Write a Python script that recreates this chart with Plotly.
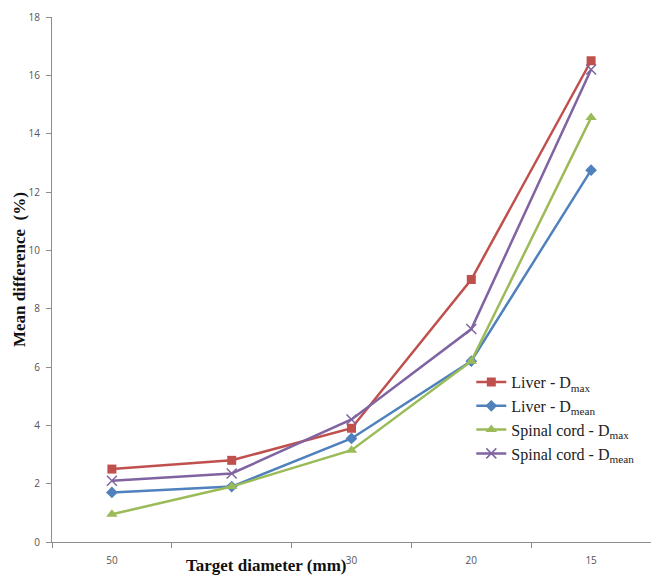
import plotly.graph_objects as go

X_LABELS = ["50", "", "30", "20", "15"]
X_POS = [0, 1, 2, 3, 4]

LIVER_DMAX = [2.5, 2.8, 3.9, 9.0, 16.5]
LIVER_DMEAN = [1.7, 1.9, 3.55, 6.2, 12.75]
SPINAL_DMAX = [0.95, 1.9, 3.15, 6.2, 14.55]
SPINAL_DMEAN = [2.1, 2.35, 4.2, 7.3, 16.2]

Y_TICKS = [0, 2, 4, 6, 8, 10, 12, 14, 16, 18]

series = [
    ("Liver - D<sub>max</sub>", LIVER_DMAX, "#C0504D", dict(symbol="square", size=9)),
    ("Liver - D<sub>mean</sub>", LIVER_DMEAN, "#4F81BD", dict(symbol="diamond", size=9)),
    ("Spinal cord - D<sub>max</sub>", SPINAL_DMAX, "#9BBB59", dict(symbol="triangle-up", size=10)),
    ("Spinal cord - D<sub>mean</sub>", SPINAL_DMEAN, "#8064A2", dict(symbol="x-thin-open", size=10)),
]

fig = go.Figure()
for name, vals, color, mk in series:
    marker = dict(color=color, **mk)
    if mk["symbol"].startswith("x-thin"):
        marker["line"] = dict(color="#9A8CC0", width=1.5)
    fig.add_trace(go.Scatter(
        x=X_POS, y=vals, name=name, mode="lines+markers",
        line=dict(color=color, width=2.5), marker=marker,
    ))

fig.update_layout(
    width=651, height=575,
    margin=dict(l=52, r=0, t=17, b=33),
    paper_bgcolor="white", plot_bgcolor="white",
    showlegend=True,
    legend=dict(
        x=0.70, y=0.337, xanchor="left", yanchor="top",
        font=dict(family="Liberation Serif, Times New Roman, serif", size=16, color="#222222"),
        bgcolor="rgba(0,0,0,0)", tracegroupgap=0, itemwidth=30,
    ),
    xaxis=dict(
        range=[-0.5, 4.5], tickmode="array", tickvals=X_POS, ticktext=X_LABELS,
        ticks="", showgrid=False, zeroline=False,
        showline=True, linecolor="#8C8C8C", linewidth=1,
        tickfont=dict(family="Open Sans, sans-serif", size=10, color="#555555"),
        minor=dict(ticks="outside", tick0=0.5, dtick=1, ticklen=5, tickcolor="#8C8C8C", showgrid=False),
        ticklabelstandoff=9,
    ),
    yaxis=dict(
        range=[0, 18], tickvals=Y_TICKS, ticks="outside", ticklen=5, tickcolor="#8C8C8C",
        showgrid=False, zeroline=False,
        showline=True, linecolor="#8C8C8C", linewidth=1,
        tickfont=dict(family="Open Sans, sans-serif", size=10, color="#555555"),
        ticklabelstandoff=4,
    ),
    annotations=[
        dict(text="<b>Target diameter (mm)</b>", xref="paper", yref="paper",
             x=(266 - 52) / 599, y=(542 - 565) / 525, xanchor="center", yanchor="middle", showarrow=False,
             font=dict(family="Liberation Serif, Times New Roman, serif", size=17, color="#111111")),
        dict(text="<b>Mean difference  (%)</b>", xref="paper", yref="paper",
             x=-0.055, y=(542 - 270) / 525, xanchor="center", yanchor="middle", showarrow=False,
             textangle=-90,
             font=dict(family="Liberation Serif, Times New Roman, serif", size=17, color="#111111")),
    ],
)

fig.write_html("out.html")
